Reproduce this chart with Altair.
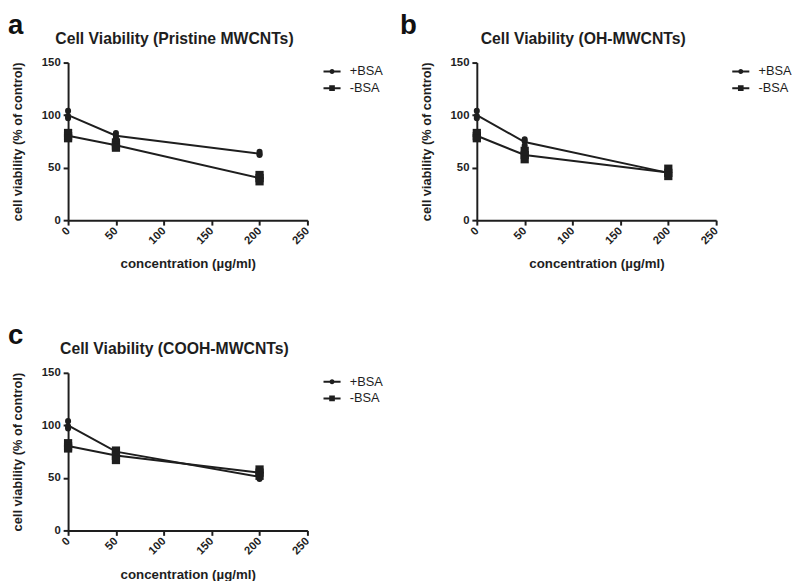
import altair as alt
import pandas as pd

conc = [0, 50, 200]
groups = ["+BSA", "-BSA"]
letters = ["a", "b", "c"]
titles = ["Cell Viability (Pristine MWCNTs)", "Cell Viability (OH-MWCNTs)",
          "Cell Viability (COOH-MWCNTs)"]

# replicate values (3 per concentration), rows follow conc
a_plus = [[104, 97, 99], [83, 80, 78], [65, 62, 63]]
a_minus = [[83, 80, 78], [74, 71, 69], [43, 40, 37]]
b_plus = [[104, 97, 99], [77, 75, 71], [46, 45, 44]]
b_minus = [[83, 80, 78], [66, 62, 58], [49, 45, 42]]
c_plus = [[104, 97, 99], [76, 75, 74], [53, 51, 49]]
c_minus = [[83, 80, 78], [76, 71, 67], [58, 55, 52]]

series = [(a_plus, a_minus), (b_plus, b_minus), (c_plus, c_minus)]
letter_x = [-61, -78, -61]

x_ticks = [0, 50, 100, 150, 200, 250]
y_ticks = [0, 50, 100, 150]

INK = "#1e1e1e"
FONT = "Liberation Sans"

# legend glyphs: a short line with a marker in its middle (unit square [-1,1])
circle_path = ("M-1,-0.11H1V0.11H-1Z"
               "M0.3,0A0.3,0.3,0,1,1,-0.3,0A0.3,0.3,0,1,1,0.3,0Z")
square_path = ("M-1,-0.11H1V0.11H-1Z"
               "M-0.33,-0.33H0.33V0.33H-0.33Z")


def make_df(plus, minus):
    rows = []
    for g, vals in zip(groups, [plus, minus]):
        for c, reps in zip(conc, vals):
            for v in reps:
                rows.append({"conc": c, "value": v, "group": g})
    return pd.DataFrame(rows)


def panel(df, title, letter, lx):
    base = alt.Chart(df)
    xenc = alt.X("conc:Q",
                 scale=alt.Scale(domain=[0, 250], nice=False),
                 axis=alt.Axis(values=x_ticks, labelAngle=-45, labelAlign="right",
                               labelBaseline="middle", labelPadding=4, titlePadding=11,
                               title="concentration (µg/ml)", titleFontSize=13.5))
    yscale = alt.Scale(domain=[0, 150], nice=False)
    yaxis = alt.Axis(values=y_ticks, title="cell viability (% of control)",
                     titlePadding=17, labelPadding=3, titleFontSize=13)
    line = base.mark_line(color=INK, strokeWidth=2).encode(
        x=xenc,
        y=alt.Y("mean(value):Q", scale=yscale, axis=yaxis),
        detail="group:N",
    )
    pts = base.mark_point(filled=True, color=INK, opacity=1, clip=False).encode(
        x=xenc,
        y=alt.Y("value:Q", scale=yscale, axis=yaxis),
        shape=alt.Shape("group:N", scale=alt.Scale(domain=groups, range=["circle", "square"]), legend=None),
        size=alt.Size("group:N", scale=alt.Scale(domain=groups, range=[38, 70]), legend=None),
    )
    ghost = base.mark_point(filled=True, color=INK, opacity=0).encode(
        x=xenc,
        y=alt.Y("value:Q", scale=yscale, axis=yaxis),
        shape=alt.Shape("group:N",
                        scale=alt.Scale(domain=groups, range=[circle_path, square_path]),
                        legend=alt.Legend(title=None, orient="none", legendX=259, legendY=0,
                                          padding=0, symbolSize=300, symbolOpacity=1,
                                          symbolFillColor=INK, symbolStrokeWidth=0,
                                          labelFontSize=13, labelFont=FONT,
                                          labelColor=INK, rowPadding=1, labelOffset=9)),
    )
    label_df = pd.DataFrame({"letter": [letter], "title": [title]})
    tag = alt.Chart(label_df).mark_text(
        fontSize=28, font=FONT, fontWeight="bold", color="#111",
        align="left", baseline="alphabetic",
    ).encode(text="letter:N", x=alt.value(lx), y=alt.value(-29))
    head = alt.Chart(label_df).mark_text(
        fontSize=16, font=FONT, fontWeight="bold", color=INK,
        align="center", baseline="middle",
    ).encode(text="title:N", x=alt.value(108), y=alt.value(-24))
    return alt.layer(line, pts, ghost, tag, head).resolve_scale(
        shape="independent", size="independent"
    ).properties(width=243, height=160)


charts = []
for (p, m), t, l, lx in zip(series, titles, letters, letter_x):
    charts.append(panel(make_df(p, m), t, l, lx))

top = alt.hconcat(charts[0], charts[1], spacing=17)
chart = alt.vconcat(top, charts[2], spacing=53).properties(
    padding=0
).configure_view(
    stroke=None
).configure_axis(
    grid=False, domainColor=INK, domainWidth=2, tickColor=INK, tickWidth=2, tickSize=5,
    labelFont=FONT, labelFontSize=11.5, labelFontWeight="bold", labelColor=INK,
    titleFont=FONT, titleFontWeight="bold", titleColor=INK,
).configure_concat(spacing=0)

chart.save("out.html", embed_options={"renderer": "svg", "actions": False})
